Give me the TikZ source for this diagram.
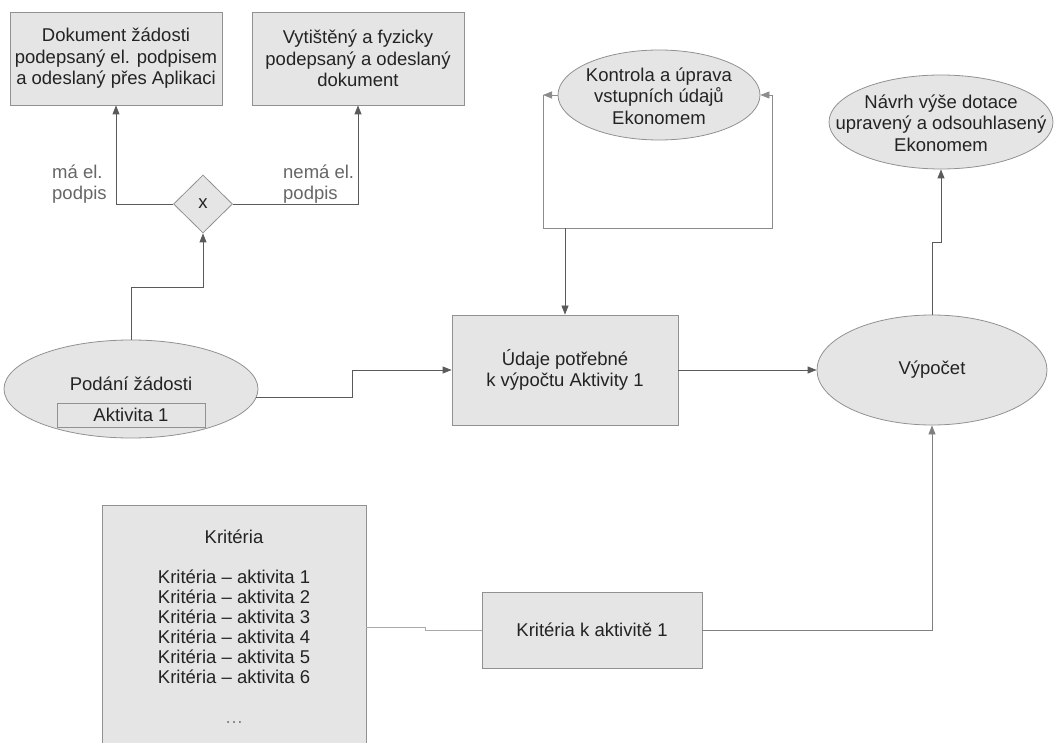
\documentclass[tikz,border=0pt]{standalone}
\usepackage{fontspec}
\setmainfont{Liberation Sans}
\usetikzlibrary{arrows.meta,shapes.geometric}
\definecolor{boxfill}{RGB}{229,229,229}
\definecolor{boxline}{RGB}{145,145,145}
\definecolor{txt}{RGB}{35,35,35}
\definecolor{wire}{RGB}{90,90,90}
\definecolor{faint}{RGB}{170,170,170}

\begin{document}
\begin{tikzpicture}[x=1pt,y=1pt,yscale=-1,xscale=1,
	font=\fontsize{18.5}{21.5}\selectfont, text=txt,
	box/.style={draw=boxline,fill=boxfill,line width=0.8pt,align=center,inner sep=0pt},
	oval/.style={ellipse,draw=boxline,fill=boxfill,line width=0.8pt,inner sep=0pt},
	gate/.style={diamond,draw=boxline,fill=boxfill,line width=0.8pt,inner sep=0pt},
	wire/.style={draw=wire,line width=0.8pt},
	thinwire/.style={draw=faint,line width=0.8pt},
	arr/.style={wire,-{Triangle[length=9pt,width=7pt]}},
	lbl/.style={align=left,inner sep=0pt,text=black!60}]
	%set diagram size 1058 x 743
	\path[use as bounding box,clip] (0,0) rectangle (1058,743);
	
	%Shape: Rectangle
	\node[box,minimum width=212,minimum height=93] (doc1) at (116,58.5) {Dokument žádosti\\podepsaný el. podpisem\\a odeslaný přes Aplikaci};
	%Shape: Rectangle
	\node[box,minimum width=212,minimum height=93] (doc2) at (358,58.5) {Vytištěný a fyzicky\\podepsaný a odeslaný\\dokument};
	%Shape: Diamond
	\node[gate,minimum width=59,minimum height=58] (dia) at (203,204) {x};
	%Shape: Ellipse
	\node[oval,minimum width=254,minimum height=98] (pod) at (131,389) {};
	%Shape: Rectangle
	\node[box,fill=none,minimum width=148,minimum height=24] (akt) at (131,415) {Aktivita 1};
	%Shape: Rectangle
	\node[box,minimum width=226,minimum height=110] (udaje) at (565,370) {Údaje potřebné\\k výpočtu Aktivity 1};
	%Shape: Ellipse
	\node[oval,minimum width=202,minimum height=90] (kon) at (659,95) {};
	%Shape: Ellipse
	\node[oval,minimum width=230,minimum height=110] (vyp) at (932,370) {};
	%Shape: Ellipse
	\node[oval,minimum width=224,minimum height=94] (navrh) at (941,122) {};
	%Shape: Rectangle
	\node[box,minimum width=264,minimum height=245] (krit) at (234,627.5) {};
	%Shape: Rectangle
	\node[box,minimum width=220,minimum height=76] (kritA) at (592,630) {Kritéria k aktivitě 1};
	
	% Text Node
	\node[inner sep=0pt] (podT) at (131,384) {Podání žádosti};
	% Text Node
	\node[align=center,inner sep=0pt] (konT) at (659,96) {Kontrola a úprava\\vstupních údajů\\Ekonomem};
	% Text Node
	\node[inner sep=0pt] (vypT) at (932,370) {Výpočet};
	% Text Node
	\node[align=center,inner sep=0pt] (navrhT) at (941,123) {Návrh výše dotace\\upravený a odsouhlasený\\Ekonomem};
	% Text Node
	\node[anchor=north,align=center,inner sep=0pt,font=\fontsize{18.5}{20}\selectfont] (kritT) at (234,530)
	{Kritéria\\[20pt]Kritéria – aktivita 1\\Kritéria – aktivita 2\\Kritéria – aktivita 3\\Kritéria – aktivita 4\\Kritéria – aktivita 5\\Kritéria – aktivita 6\\[20pt]{\color{black!50}…}};
	% Text Node
	\node[lbl,anchor=west] (maL) at (52,184) {má el.\\podpis};
	% Text Node
	\node[lbl,anchor=west] (nemaL) at (283,184) {nemá el.\\podpis};
	
	\coordinate (bendA) at (133,287);
	\coordinate (bendB) at (352,0);
	\coordinate (bendC) at (0,242);
	\coordinate (bendD) at (425,630);
	\coordinate (loopL) at (543,228);
	\coordinate (loopR) at (772,228);
	
	%Straight Lines
	\draw[arr] (pod.north) -- (pod.north |- bendA) -| (dia.south);
	%Straight Lines
	\draw[arr] (dia.west) -| (doc1.south);
	%Straight Lines
	\draw[arr] (dia.east) -| (doc2.south);
	%Straight Lines
	\draw[arr] (pod.-4) -| (bendB |- udaje.west) -- (udaje.west);
	%Straight Lines
	\draw[arr] (udaje.east) -- (vyp.west);
	%Straight Lines
	\draw[arr] (vyp.north) -- (vyp.north |- bendC) -| (navrh.south);
	%Straight Lines
	\draw[arr,draw=black!45] (kon.west) -- (kon.west -| loopL);
	\draw[draw=black!45,line width=0.8pt] (kon.west -| loopL) -- (loopL) -- (loopR) -- (kon.east -| loopR);
	\draw[arr,draw=black!45] (kon.east -| loopR) -- (kon.east);
	%Straight Lines
	\draw[arr] (udaje.north |- loopL) -- (udaje.north);
	%Straight Lines
	\draw[thinwire] (krit.east) -| (bendD) -- (kritA.west);
	%Straight Lines
	\draw[arr,draw=black!50] (kritA.east) -| (vyp.south);
	
\end{tikzpicture}
\end{document}
